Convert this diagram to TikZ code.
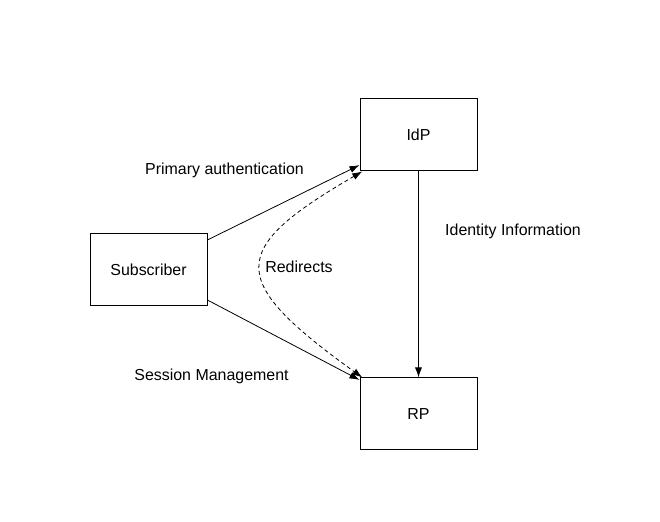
\documentclass[tikz,border=0pt]{standalone}
\usepackage{fontspec}
\setmainfont{Liberation Sans}
\usetikzlibrary{positioning}
\usetikzlibrary{arrows.meta}

\begin{document}
\begin{tikzpicture}[x=1bp, y=1bp,
		every node/.style={font=\fontsize{16}{19}\selectfont},
		caja/.style={draw, line width=1bp, minimum width=117bp, minimum height=72bp, inner sep=0pt},
		flecha/.style={-{Latex[length=10bp,width=7bp]}, line width=0.8bp},
		etiqueta/.style={inner sep=0pt}]
	% Marco de la figura
	\useasboundingbox (0,0) rectangle (660,522);
	
	% Cajas
	\node[caja] (sub) at (148.5,252) {Subscriber};
	\node[caja] (idp) at (418.5,387) {IdP};
	\node[caja] (rp) at (418.5,108) {RP};
	
	% Flechas
	\draw[flecha] (sub.27) -- (idp.207);
	\draw[flecha] (sub.-27) -- (rp.150);
	\draw[flecha] (idp.south) -- (rp.north);
	\draw[flecha, {Latex[length=10bp,width=7bp]}-{Latex[length=10bp,width=7bp]}, dash pattern=on 4bp off 3bp]
		(idp.213) .. controls (227,272) and (227,242) .. (rp.147);
	
	% Etiquetas
	\node[etiqueta] (auth) at (224.5,352) {Primary authentication};
	\node[etiqueta] (ident) at (513,291) {Identity Information};
	\node[etiqueta] (redir) at (299,255) {Redirects};
	\node[etiqueta] (sess) at (211.5,146) {Session Management};
\end{tikzpicture}
\end{document}
